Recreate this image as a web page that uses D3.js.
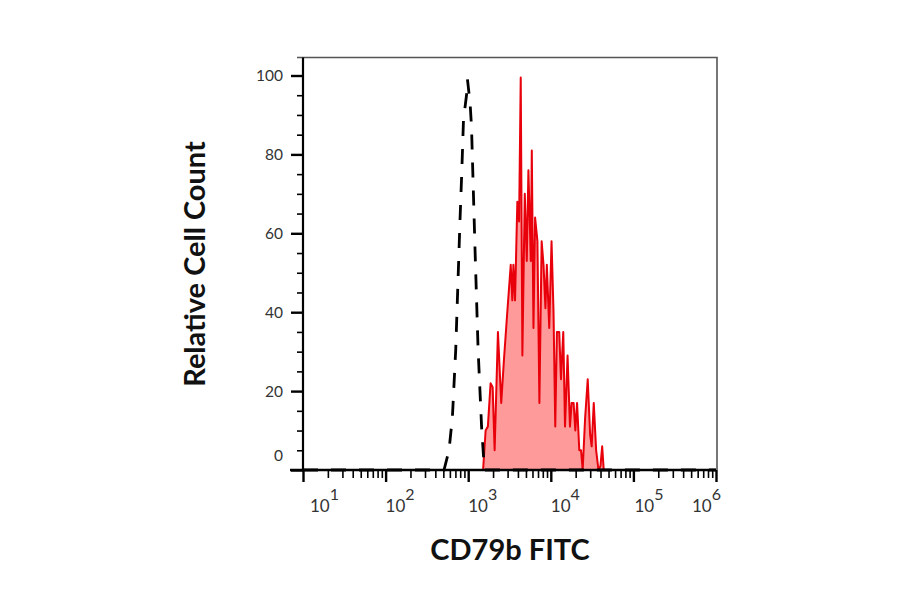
<!DOCTYPE html>
<html>
<head>
<meta charset="utf-8">
<script src="https://cdn.jsdelivr.net/npm/d3@7"></script>
<style>
  body { margin: 0; background: #fff; }
  text { font-family: Lato, "Open Sans", sans-serif; }
</style>
</head>
<body>
<script>
// chart size
var w = 900;
var h = 594;

// stained sample (red, filled) - x is log10 of FITC intensity
var stainedLog = [1, 3.17, 3.18, 3.211, 3.238, 3.271, 3.296, 3.32, 3.36, 3.40, 3.433, 3.473, 3.515, 3.534,
  3.547, 3.567, 3.595, 3.616, 3.636, 3.656, 3.685, 3.709, 3.729, 3.758, 3.770, 3.790, 3.810, 3.838,
  3.862, 3.889, 3.912, 3.935, 3.952, 3.981, 4.009, 4.033, 4.054, 4.074, 4.102, 4.123, 4.151, 4.172,
  4.203, 4.232, 4.252, 4.276, 4.297, 4.318, 4.345, 4.366, 4.386, 4.415, 4.447, 4.476, 4.495, 4.520,
  4.549, 4.577, 4.601, 4.622, 4.641, 6];
var stainedCount = [0, 0, 0, 10, 11, 22, 21, 5, 35, 17, 28, 40, 52, 43,
  52, 43, 68, 63, 99.5, 29, 70, 53, 76, 53, 81, 36, 64, 58,
  17, 58, 52, 41, 52, 36, 58, 40, 11, 35, 35, 23, 35, 11,
  29, 11, 17, 17, 10, 17, 5, 5, 0, 13, 23, 9, 6, 17,
  5, 0, 1, 6, 0, 0];

// isotype control (black dashed)
var controlLog = [1, 2.707, 2.768, 2.809, 2.849, 2.889, 2.898, 2.922, 2.943, 2.983, 2.991, 3.023, 3.040,
  3.084, 3.120, 3.162, 3.193, 3.20, 6];
var controlCount = [0, 0, 5, 13.5, 30.5, 55.8, 61.7, 75.4, 88.8, 95.6, 99, 93, 87,
  55, 30.5, 11, 1, 0, 0];

var yTicks = [0, 20, 40, 60, 80, 100];
var xDecades = [1, 2, 3, 4, 5, 6];

var svg = d3.select("body")
  .append("svg")
  .attr("width", w)
  .attr("height", h);

var x = d3.scaleLog().domain([1e1, 1e6]).range([303, 716]);
var y = d3.scaleLinear().domain([0, 100]).range([470, 75.5]);

var stained = stainedLog.map(function(d, i) { return { v: Math.pow(10, d), c: stainedCount[i] }; });
var control = controlLog.map(function(d, i) { return { v: Math.pow(10, d), c: controlCount[i] }; });

// frame (top + right)
svg.append("path")
  .attr("d", "M297," + 57.5 + "H" + 717 + "V" + y(0))
  .attr("fill", "none")
  .attr("stroke", "#555")
  .attr("stroke-width", 1.6);

// filled histogram
svg.append("path")
  .datum(stained)
  .attr("d", d3.area()
    .x(function(d) { return x(d.v); })
    .y0(y(0))
    .y1(function(d) { return y(d.c); }))
  .attr("fill", "#ff9a9a");

svg.append("path")
  .datum(stained)
  .attr("d", d3.line()
    .x(function(d) { return x(d.v); })
    .y(function(d) { return y(d.c); }))
  .attr("fill", "none")
  .attr("stroke", "#e8000b")
  .attr("stroke-width", 2)
  .attr("stroke-linejoin", "round");

svg.append("path")
  .datum(control)
  .attr("d", d3.line()
    .x(function(d) { return x(d.v); })
    .y(function(d) { return y(d.c); }))
  .attr("fill", "none")
  .attr("stroke", "#000")
  .attr("stroke-width", 2.8)
  .attr("stroke-dasharray", "15,13");

// y axis
var yMinor = d3.range(0, 101, 5).filter(function(d) { return d % 20 != 0; });
svg.append("g")
  .attr("transform", "translate(303,0)")
  .call(d3.axisLeft(y).tickValues(yMinor).tickSize(6).tickFormat(""))
  .call(function(g) { g.select(".domain").remove(); g.selectAll("line").attr("stroke-width", 1.6); });

var yAxis = svg.append("g")
  .attr("transform", "translate(303,0)")
  .call(d3.axisLeft(y).tickValues(yTicks).tickSize(12).tickPadding(8));
yAxis.select(".domain").attr("d", "M0,57.5V" + y(0)).attr("stroke-width", 2.2);
yAxis.selectAll("line").attr("stroke-width", 2.4);
yAxis.selectAll("text")
  .attr("font-size", 15.5)
  .attr("font-family", "Lato, sans-serif")
  .attr("fill", "#333")
  .attr("dy", function(d) { return d == 0 ? "-0.6em" : "0.32em"; });

// x axis
var xMinor = [];
xDecades.slice(0, -1).forEach(function(e) {
  for (var k = 2; k < 10; k++) xMinor.push(k * Math.pow(10, e));
});
svg.append("g")
  .attr("transform", "translate(0," + y(0) + ")")
  .call(d3.axisBottom(x).tickValues(xMinor).tickSize(8).tickFormat(""))
  .call(function(g) { g.select(".domain").remove(); g.selectAll("line").attr("stroke-width", 1.6); });

var xAxis = svg.append("g")
  .attr("transform", "translate(0," + y(0) + ")")
  .call(d3.axisBottom(x).tickValues(xDecades.map(function(e) { return Math.pow(10, e); })).tickSize(12).tickFormat(""));
xAxis.select(".domain").attr("d", "M290,0H716").attr("stroke-width", 2.4);
xAxis.selectAll("line").attr("stroke-width", 2.4);

var labelShift = [7, 0, 0, 0, 1, -24];
var xLab = svg.append("g").selectAll("text")
  .data(xDecades)
  .enter().append("text")
  .attr("x", function(d, i) { return x(Math.pow(10, d)) + labelShift[i]; })
  .attr("y", 512)
  .attr("font-size", 17)
  .attr("fill", "#333");
xLab.append("tspan").text("10");
xLab.append("tspan")
  .attr("dy", -12)
  .attr("font-size", 16)
  .text(function(d) { return d; });

// titles
svg.append("text")
  .attr("x", 510)
  .attr("y", 560)
  .attr("text-anchor", "middle")
  .attr("font-size", 29)
  .attr("font-weight", "bold")
  .attr("fill", "#111")
  .text("CD79b FITC");

svg.append("text")
  .attr("transform", "translate(205,264) rotate(-90)")
  .attr("text-anchor", "middle")
  .attr("font-size", 29)
  .attr("font-weight", "bold")
  .attr("fill", "#111")
  .text("Relative Cell Count");
</script>
</body>
</html>
